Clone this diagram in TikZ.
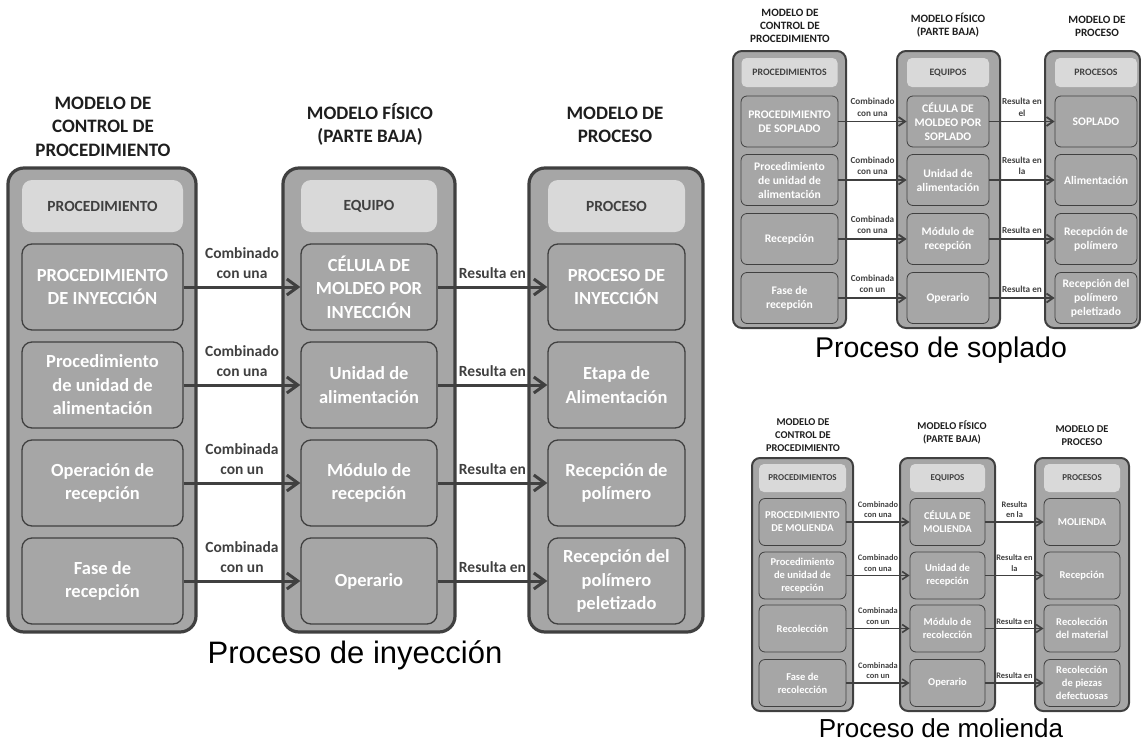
\documentclass[tikz,border=0pt]{standalone}
\usepackage{fontspec}
\setmainfont{Carlito}
\newfontfamily\capfont{Liberation Sans}
\usetikzlibrary{arrows.meta}
\definecolor{boxgray}{HTML}{A6A6A6}
\definecolor{headgray}{HTML}{D9D9D9}
\definecolor{edgecol}{HTML}{404040}
\definecolor{txtdark}{HTML}{404040}
\definecolor{titlecol}{HTML}{1E1E1E}
\begin{document}
\begin{tikzpicture}[x=1pt,y=-1pt,
  every node/.style={inner sep=0pt},
  % big diagram
  Aout/.style={draw=edgecol, fill=boxgray, line width=3.2pt, rounded corners=16pt, minimum height=464pt},
  Ahead/.style={fill=headgray, rounded corners=10pt, minimum height=52pt, text=txtdark, font=\bfseries\fontsize{15.5}{18}\selectfont},
  Ain/.style={draw=edgecol, fill=boxgray, line width=1.3pt, rounded corners=10pt, minimum height=86pt, text=white, align=center, font=\bfseries\fontsize{18.5}{23.5}\selectfont},
  Atitle/.style={align=center, text=titlecol, font=\bfseries\fontsize{19}{23.5}\selectfont},
  Aarr/.style={draw=edgecol, line width=3pt, -{Straight Barb[length=11pt,width=16pt]}},
  Alab/.style={midway, above=7pt, align=center, text=txtdark, font=\bfseries\fontsize{15.5}{19.5}\selectfont},
  % soplado
  Bout/.style={draw=edgecol, fill=boxgray, line width=2pt, rounded corners=9pt, minimum height=277pt},
  Bhead/.style={fill=headgray, rounded corners=5pt, minimum height=29pt, text=txtdark, font=\bfseries\fontsize{9.8}{12}\selectfont},
  Bin/.style={draw=edgecol, fill=boxgray, line width=0.8pt, rounded corners=6pt, minimum height=51pt, text=white, align=center, font=\bfseries\fontsize{11.6}{14}\selectfont},
  Btitle/.style={align=center, text=titlecol, font=\bfseries\fontsize{11.2}{13.2}\selectfont},
  Barr/.style={draw=edgecol, line width=1.8pt, -{Straight Barb[length=6.5pt,width=9pt]}},
  Blab/.style={midway, above=4.5pt, align=center, text=txtdark, font=\bfseries\fontsize{9.2}{11.5}\selectfont},
  % molienda
  Cout/.style={draw=edgecol, fill=boxgray, line width=2pt, rounded corners=8pt, minimum height=253pt},
  Chead/.style={fill=headgray, rounded corners=5pt, minimum height=28pt, text=txtdark, font=\bfseries\fontsize{9}{11}\selectfont},
  Cin/.style={draw=edgecol, fill=boxgray, line width=0.8pt, rounded corners=6pt, minimum height=47pt, text=white, align=center, font=\bfseries\fontsize{10.5}{13}\selectfont},
  Ctitle/.style={align=center, text=titlecol, font=\bfseries\fontsize{10.4}{13}\selectfont},
  Carr/.style={draw=edgecol, line width=1.6pt, -{Straight Barb[length=6pt,width=8pt]}},
  Clab/.style={midway, above=3.5pt, align=center, text=txtdark, font=\bfseries\fontsize{8.4}{10.5}\selectfont},
  captext/.style={anchor=base, text=black}
]
\useasboundingbox (0,0) rectangle (1141,742);

%================ BIG: Proceso de inyeccion ================
\node[Atitle] (At1) at (103,126.5) {MODELO DE\\CONTROL DE\\PROCEDIMIENTO};
\node[Atitle] (At2) at (370,124.5) {MODELO FÍSICO\\(PARTE BAJA)};
\node[Atitle] (At3) at (615,125) {MODELO DE\\PROCESO};

\node[Aout, minimum width=188pt] (A1) at (102,400) {};
\node[Aout, minimum width=172pt] (A2) at (369,400) {};
\node[Aout, minimum width=174pt] (A3) at (616,400) {};

\node[Ahead, minimum width=161pt] (a0) at (102.5,206) {PROCEDIMIENTO};
\node[Ain, minimum width=161pt] (a1) at (102.5,287) {PROCEDIMIENTO\\DE INYECCIÓN};
\node[Ain, minimum width=161pt] (a2) at (102.5,385) {Procedimiento\\de unidad de\\alimentación};
\node[Ain, minimum width=161pt] (a3) at (102.5,483) {Operación de\\recepción};
\node[Ain, minimum width=161pt] (a4) at (102.5,581) {Fase de\\recepción};

\node[Ahead, minimum width=136pt] (b0) at (369,206) {EQUIPO};
\node[Ain, minimum width=136pt] (b1) at (369,287) {CÉLULA DE\\MOLDEO POR\\INYECCIÓN};
\node[Ain, minimum width=136pt] (b2) at (369,385) {Unidad de\\alimentación};
\node[Ain, minimum width=136pt] (b3) at (369,483) {Módulo de\\recepción};
\node[Ain, minimum width=136pt] (b4) at (369,581) {Operario};

\node[Ahead, minimum width=137pt] (c0) at (616.5,206) {PROCESO};
\node[Ain, minimum width=137pt] (c1) at (616.5,287) {PROCESO DE\\INYECCIÓN};
\node[Ain, minimum width=137pt] (c2) at (616.5,385) {Etapa de\\Alimentación};
\node[Ain, minimum width=137pt] (c3) at (616.5,483) {Recepción de\\polímero};
\node[Ain, minimum width=137pt] (c4) at (616.5,581) {Recepción del\\polímero\\peletizado};

\draw[Aarr] (a1.east) -- node[Alab]{Combinado\\con una} (b1.west);
\draw[Aarr] (a2.east) -- node[Alab]{Combinado\\con una} (b2.west);
\draw[Aarr] (a3.east) -- node[Alab]{Combinada\\con un} (b3.west);
\draw[Aarr] (a4.east) -- node[Alab]{Combinada\\con un} (b4.west);
\draw[Aarr] (b1.east) -- node[Alab]{Resulta en} (c1.west);
\draw[Aarr] (b2.east) -- node[Alab]{Resulta en} (c2.west);
\draw[Aarr] (b3.east) -- node[Alab]{Resulta en} (c3.west);
\draw[Aarr] (b4.east) -- node[Alab]{Resulta en} (c4.west);

\node[captext, font=\capfont\fontsize{31}{36}\selectfont] (Acap) at (355,663) {Proceso de inyección};

%================ SOPLADO ================
\node[Btitle] (Bt1) at (790,26) {MODELO DE\\CONTROL DE\\PROCEDIMIENTO};
\node[Btitle] (Bt2) at (948,25.5) {MODELO FÍSICO\\(PARTE BAJA)};
\node[Btitle] (Bt3) at (1097,26.5) {MODELO DE\\PROCESO};

\node[Bout, minimum width=113pt] (B1) at (789.5,189.5) {};
\node[Bout, minimum width=103pt] (B2) at (948.5,189.5) {};
\node[Bout, minimum width=95pt] (B3) at (1092.5,189.5) {};

\node[Bhead, minimum width=96pt] (s0) at (789.5,72.5) {PROCEDIMIENTOS};
\node[Bin, minimum width=97pt] (s1) at (789.5,121.5) {PROCEDIMIENTO\\DE SOPLADO};
\node[Bin, minimum width=97pt] (s2) at (789.5,180) {Procedimiento\\de unidad de\\alimentación};
\node[Bin, minimum width=97pt] (s3) at (789.5,239) {Recepción};
\node[Bin, minimum width=97pt] (s4) at (789.5,298) {Fase de\\recepción};

\node[Bhead, minimum width=82pt] (t0) at (948,72.5) {EQUIPOS};
\node[Bin, minimum width=82pt] (t1) at (948,121.5) {CÉLULA DE\\MOLDEO POR\\SOPLADO};
\node[Bin, minimum width=82pt] (t2) at (948,180) {Unidad de\\alimentación};
\node[Bin, minimum width=82pt] (t3) at (948,239) {Módulo de\\recepción};
\node[Bin, minimum width=82pt] (t4) at (948,298) {Operario};

\node[Bhead, minimum width=82pt] (u0) at (1096,72.5) {PROCESOS};
\node[Bin, minimum width=82pt] (u1) at (1096,121.5) {SOPLADO};
\node[Bin, minimum width=82pt] (u2) at (1096,180) {Alimentación};
\node[Bin, minimum width=82pt] (u3) at (1096,239) {Recepción de\\polímero};
\node[Bin, minimum width=82pt] (u4) at (1096,298) {Recepción del\\polímero\\peletizado};

\draw[Barr] (s1.east) -- node[Blab]{Combinado\\con una} (t1.west);
\draw[Barr] (s2.east) -- node[Blab]{Combinado\\con una} (t2.west);
\draw[Barr] (s3.east) -- node[Blab]{Combinada\\con una} (t3.west);
\draw[Barr] (s4.east) -- node[Blab]{Combinada\\con un} (t4.west);
\draw[Barr] (t1.east) -- node[Blab]{Resulta en\\el} (u1.west);
\draw[Barr] (t2.east) -- node[Blab]{Resulta en\\la} (u2.west);
\draw[Barr] (t3.east) -- node[Blab]{Resulta en} (u3.west);
\draw[Barr] (t4.east) -- node[Blab]{Resulta en} (u4.west);

\node[captext, font=\capfont\fontsize{28.5}{34}\selectfont] (Bcap) at (941,357) {Proceso de soplado};

%================ MOLIENDA ================
\node[Ctitle] (Ct1) at (803,435) {MODELO DE\\CONTROL DE\\PROCEDIMIENTO};
\node[Ctitle] (Ct2) at (952,432.5) {MODELO FÍSICO\\(PARTE BAJA)};
\node[Ctitle] (Ct3) at (1082,435.5) {MODELO DE\\PROCESO};

\node[Cout, minimum width=101pt] (C1) at (802.5,584.5) {};
\node[Cout, minimum width=95pt] (C2) at (947.5,584.5) {};
\node[Cout, minimum width=94pt] (C3) at (1082,584.5) {};

\node[Chead, minimum width=87pt] (m0) at (802.5,478) {PROCEDIMIENTOS};
\node[Cin, minimum width=87pt] (m1) at (802.5,522) {PROCEDIMIENTO\\DE MOLIENDA};
\node[Cin, minimum width=87pt] (m2) at (802.5,575.5) {Procedimiento\\de unidad de\\recepción};
\node[Cin, minimum width=87pt] (m3) at (802.5,628.5) {Recolección};
\node[Cin, minimum width=87pt] (m4) at (802.5,683) {Fase de\\recolección};

\node[Chead, minimum width=75pt] (n0) at (947.5,478) {EQUIPOS};
\node[Cin, minimum width=75pt] (n1) at (947.5,522) {CÉLULA DE\\MOLIENDA};
\node[Cin, minimum width=75pt] (n2) at (947.5,575.5) {Unidad de\\recepción};
\node[Cin, minimum width=75pt] (n3) at (947.5,628.5) {Módulo de\\recolección};
\node[Cin, minimum width=75pt] (n4) at (947.5,683) {Operario};

\node[Chead, minimum width=76pt] (o0) at (1082,478) {PROCESOS};
\node[Cin, minimum width=76pt] (o1) at (1082,522) {MOLIENDA};
\node[Cin, minimum width=76pt] (o2) at (1082,575.5) {Recepción};
\node[Cin, minimum width=76pt] (o3) at (1082,628.5) {Recolección\\del material};
\node[Cin, minimum width=76pt] (o4) at (1082,683) {Recolección\\de piezas\\defectuosas};

\draw[Carr] (m1.east) -- node[Clab]{Combinado\\con una} (n1.west);
\draw[Carr] (m2.east) -- node[Clab]{Combinado\\con una} (n2.west);
\draw[Carr] (m3.east) -- node[Clab]{Combinada\\con un} (n3.west);
\draw[Carr] (m4.east) -- node[Clab]{Combinada\\con un} (n4.west);
\draw[Carr] (n1.east) -- node[Clab]{Resulta\\en la} (o1.west);
\draw[Carr] (n2.east) -- node[Clab]{Resulta en\\la} (o2.west);
\draw[Carr] (n3.east) -- node[Clab]{Resulta en} (o3.west);
\draw[Carr] (n4.east) -- node[Clab]{Resulta en} (o4.west);

\node[captext, font=\capfont\fontsize{26}{31}\selectfont] (Ccap) at (941,737) {Proceso de molienda};
\end{tikzpicture}
\end{document}
